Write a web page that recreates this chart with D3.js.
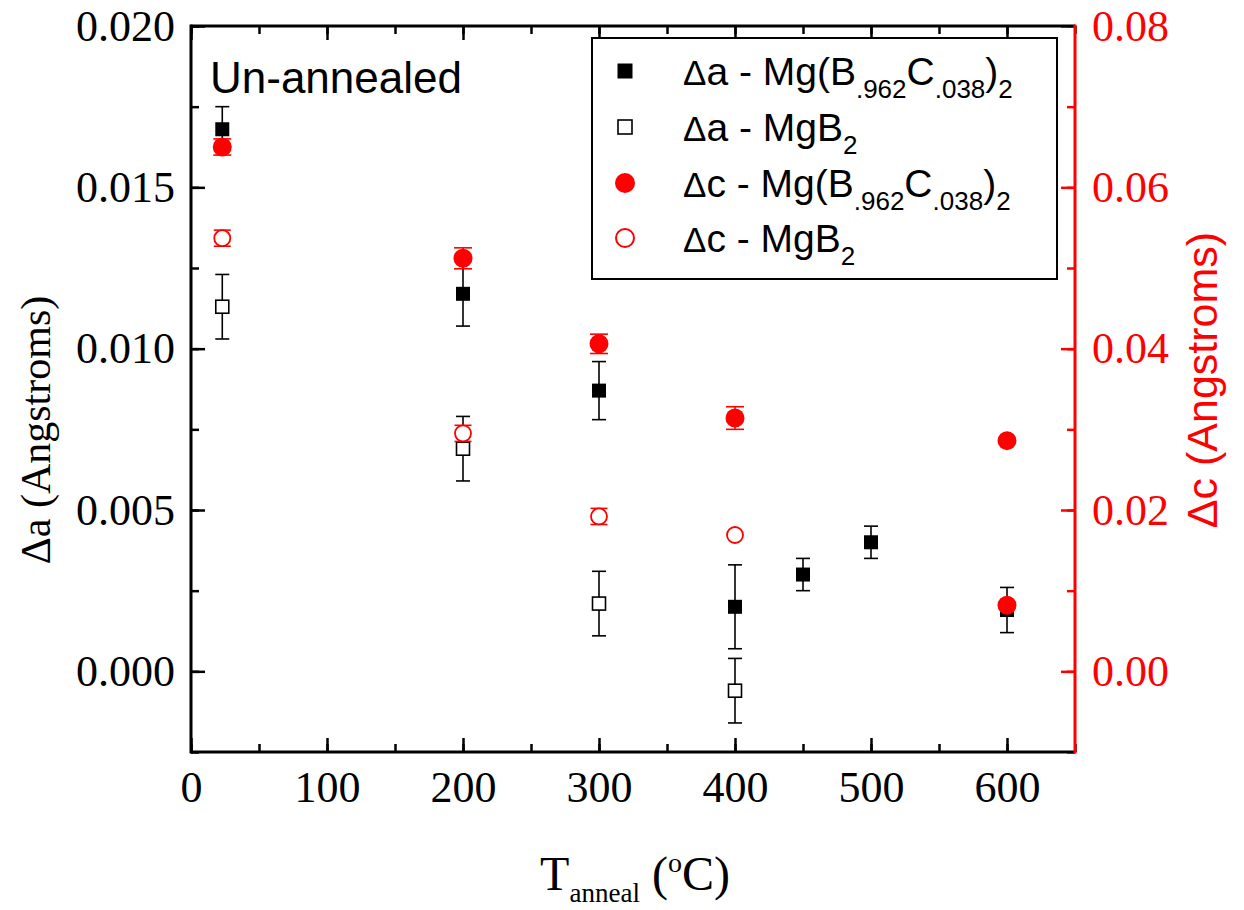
<!DOCTYPE html>
<html><head><meta charset="utf-8">
<script src="https://cdn.jsdelivr.net/npm/d3@7"></script>
<style>body{margin:0;background:#fff}svg{display:block}</style>
</head><body>
<svg id="c" width="1244" height="910"></svg>
<script>
// ---- data ----
const tempDopedA = [23, 200, 300, 400, 450, 500, 600];
const daDoped    = [0.0168, 0.0117, 0.0087, 0.0020, 0.0030, 0.0040, 0.0019];
const daDopedErr = [0.0007, 0.0010, 0.0009, 0.0013, 0.0005, 0.0005, 0.0007];

const tempPureA  = [23, 200, 300, 400];
const daPure     = [0.0113, 0.0069, 0.0021, -0.0006];
const daPureErr  = [0.0010, 0.0010, 0.0010, 0.0010];

const tempDopedC = [23, 200, 300, 400, 600, 600];
const dcDoped    = [0.0650, 0.0512, 0.0406, 0.0314, 0.0286, 0.0082];
const dcDopedErr = [0.0010, 0.0013, 0.0012, 0.0014, 0, 0];

const tempPureC  = [23, 200, 300, 400];
const dcPure     = [0.0537, 0.0295, 0.0192, 0.0169];
const dcPureErr  = [0.0010, 0.0010, 0.0010, 0];

const xTicks  = [0, 100, 200, 300, 400, 500, 600];
const yLTicks = [0.000, 0.005, 0.010, 0.015, 0.020];
const yRTicks = [0.00, 0.02, 0.04, 0.06, 0.08];

const RED = "#ff0000";
const svg = d3.select("#c");
const L = 191, R = 1075, T = 26, B = 752;
const x  = d3.scaleLinear().domain([0, 650]).range([L, R]);
const yL = d3.scaleLinear().domain([-0.0025, 0.020]).range([B, T]);
const yR = d3.scaleLinear().domain([-0.01, 0.08]).range([B, T]);

const serif = "'Liberation Serif','Times New Roman',serif";
const sans  = "'Liberation Sans',Arial,sans-serif";

function styleAxis(g, color) {
  g.select(".domain").remove();
  g.selectAll("line").attr("stroke", color).attr("stroke-width", 2.5);
  g.selectAll("text").attr("font-family", serif).attr("font-size", 44).attr("fill", color);
}
const minorX = d3.range(0, 651, 50);
const minorYL = d3.range(-0.0025, 0.02001, 0.0025);
const minorYR = d3.range(-0.01, 0.08001, 0.01);

// bottom
svg.append("g").attr("transform", `translate(0,${B})`)
  .call(d3.axisBottom(x).tickValues(minorX).tickSize(-8).tickFormat(""))
  .call(g => styleAxis(g, "#000"));
svg.append("g").attr("transform", `translate(0,${B})`)
  .call(d3.axisBottom(x).tickValues(xTicks).tickSize(-14).tickPadding(19).tickFormat(d3.format("d")))
  .call(g => styleAxis(g, "#000"));
// top
svg.append("g").attr("transform", `translate(0,${T})`)
  .call(d3.axisTop(x).tickValues(minorX).tickSize(-8).tickFormat(""))
  .call(g => styleAxis(g, "#000"));
svg.append("g").attr("transform", `translate(0,${T})`)
  .call(d3.axisTop(x).tickValues(xTicks).tickSize(-14).tickFormat(""))
  .call(g => styleAxis(g, "#000"));
// left
svg.append("g").attr("transform", `translate(${L},0)`)
  .call(d3.axisLeft(yL).tickValues(minorYL).tickSize(-8).tickFormat(""))
  .call(g => styleAxis(g, "#000"));
svg.append("g").attr("transform", `translate(${L},0)`)
  .call(d3.axisLeft(yL).tickValues(yLTicks).tickSize(-14).tickPadding(16).tickFormat(d3.format(".3f")))
  .call(g => styleAxis(g, "#000"));
// right
svg.append("g").attr("transform", `translate(${R},0)`)
  .call(d3.axisRight(yR).tickValues(minorYR).tickSize(-8).tickFormat(""))
  .call(g => styleAxis(g, RED));
svg.append("g").attr("transform", `translate(${R},0)`)
  .call(d3.axisRight(yR).tickValues(yRTicks).tickSize(-14).tickPadding(17).tickFormat(d3.format(".2f")))
  .call(g => styleAxis(g, RED));

// frame lines
svg.append("line").attr("x1", L).attr("x2", R).attr("y1", B).attr("y2", B).attr("stroke", "#000").attr("stroke-width", 3);
svg.append("line").attr("x1", L).attr("x2", R).attr("y1", T).attr("y2", T).attr("stroke", "#000").attr("stroke-width", 3);
svg.append("line").attr("x1", L).attr("x2", L).attr("y1", T - 1.5).attr("y2", B + 1.5).attr("stroke", "#000").attr("stroke-width", 3);
svg.append("line").attr("x1", R).attr("x2", R).attr("y1", T - 1.5).attr("y2", B + 1.5).attr("stroke", RED).attr("stroke-width", 3);

// legend box
const lg = svg.append("g");
lg.append("rect").attr("x", 592).attr("y", 38).attr("width", 465).attr("height", 241)
  .attr("fill", "#fff").attr("stroke", "#000").attr("stroke-width", 2);

// error bars
function errBars(xs, ys, es, scale, color, cap) {
  const g = svg.append("g").attr("stroke", color).attr("stroke-width", 1.6);
  xs.forEach((t, i) => {
    if (!es[i]) return;
    const cx = x(t), y1 = scale(ys[i] + es[i]), y2 = scale(ys[i] - es[i]);
    g.append("line").attr("x1", cx).attr("x2", cx).attr("y1", y1).attr("y2", y2);
    g.append("line").attr("x1", cx - cap / 2).attr("x2", cx + cap / 2).attr("y1", y1).attr("y2", y1);
    g.append("line").attr("x1", cx - cap / 2).attr("x2", cx + cap / 2).attr("y1", y2).attr("y2", y2);
  });
}
errBars(tempPureA, daPure, daPureErr, yL, "#000", 14);
svg.append("g").selectAll("rect").data(tempPureA).join("rect")
  .attr("x", (d) => x(d) - 6.5).attr("y", (d, i) => yL(daPure[i]) - 6.5)
  .attr("width", 13).attr("height", 13).attr("fill", "#fff").attr("stroke", "#000").attr("stroke-width", 1.6);

errBars(tempDopedA, daDoped, daDopedErr, yL, "#000", 14);
svg.append("g").selectAll("rect").data(tempDopedA).join("rect")
  .attr("x", (d) => x(d) - 7).attr("y", (d, i) => yL(daDoped[i]) - 7)
  .attr("width", 14).attr("height", 14).attr("fill", "#000");

errBars(tempPureC, dcPure, dcPureErr, yR, RED, 17);
svg.append("g").selectAll("circle").data(tempPureC).join("circle")
  .attr("cx", (d) => x(d)).attr("cy", (d, i) => yR(dcPure[i])).attr("r", 8)
  .attr("fill", "#fff").attr("stroke", RED).attr("stroke-width", 1.8);

errBars(tempDopedC, dcDoped, dcDopedErr, yR, RED, 18);
svg.append("g").selectAll("circle").data(tempDopedC).join("circle")
  .attr("cx", (d) => x(d)).attr("cy", (d, i) => yR(dcDoped[i])).attr("r", 9.5)
  .attr("fill", RED);

// legend content
const legendRows = [
  {sym: "fsq", d: "a", pre: "Mg(B", subs: true},
  {sym: "osq", d: "a", pre: "MgB", subs: false},
  {sym: "fci", d: "c", pre: "Mg(B", subs: true},
  {sym: "oci", d: "c", pre: "MgB", subs: false}
];
const rowY = [71, 127, 183, 238];
legendRows.forEach((r, i) => {
  const cy = rowY[i], mx = 625;
  if (r.sym === "fsq") lg.append("rect").attr("x", mx - 7.5).attr("y", cy - 7.5).attr("width", 15).attr("height", 15).attr("fill", "#000");
  if (r.sym === "osq") lg.append("rect").attr("x", mx - 7).attr("y", cy - 7).attr("width", 14).attr("height", 14).attr("fill", "#fff").attr("stroke", "#000").attr("stroke-width", 1.6);
  if (r.sym === "fci") lg.append("circle").attr("cx", mx).attr("cy", cy).attr("r", 10).attr("fill", RED);
  if (r.sym === "oci") lg.append("circle").attr("cx", mx).attr("cy", cy).attr("r", 9).attr("fill", "#fff").attr("stroke", RED).attr("stroke-width", 2);
  const t = lg.append("text").attr("x", 683).attr("y", cy + 14).attr("font-family", sans).attr("font-size", 39).attr("fill", "#000");
  t.append("tspan").attr("font-size", 35).text("Δ");
  t.append("tspan").text(r.d + " - " + r.pre);
  if (r.subs) {
    t.append("tspan").attr("font-size", 26).attr("dy", 13).text(".962");
    t.append("tspan").attr("dy", -13).text("C");
    t.append("tspan").attr("font-size", 26).attr("dy", 13).text(".038");
    t.append("tspan").attr("dy", -13).text(")");
    t.append("tspan").attr("font-size", 26).attr("dy", 13).text("2");
  } else {
    t.append("tspan").attr("font-size", 26).attr("dy", 13).text("2");
  }
});

// annotation
svg.append("text").attr("x", 210).attr("y", 93).attr("font-family", sans).attr("font-size", 44).text("Un-annealed");

// axis titles
const xt = svg.append("text").attr("x", 635).attr("y", 890).attr("text-anchor", "middle")
  .attr("font-family", serif).attr("font-size", 48);
xt.append("tspan").text("T");
xt.append("tspan").attr("font-size", 27).attr("dy", 12).text("anneal");
xt.append("tspan").attr("dy", -12).text(" (");
xt.append("tspan").attr("font-size", 28).attr("dy", -18).text("o");
xt.append("tspan").attr("dy", 18).text("C)");

svg.append("text").attr("transform", "translate(50,430) rotate(-90)").attr("text-anchor", "middle")
  .attr("font-family", serif).attr("font-size", 42).text("Δa (Angstroms)");
svg.append("text").attr("transform", "translate(1217,380) rotate(-90)").attr("text-anchor", "middle")
  .attr("font-family", sans).attr("font-size", 43).attr("fill", RED).text("Δc (Angstroms)");
</script>
</body></html>
